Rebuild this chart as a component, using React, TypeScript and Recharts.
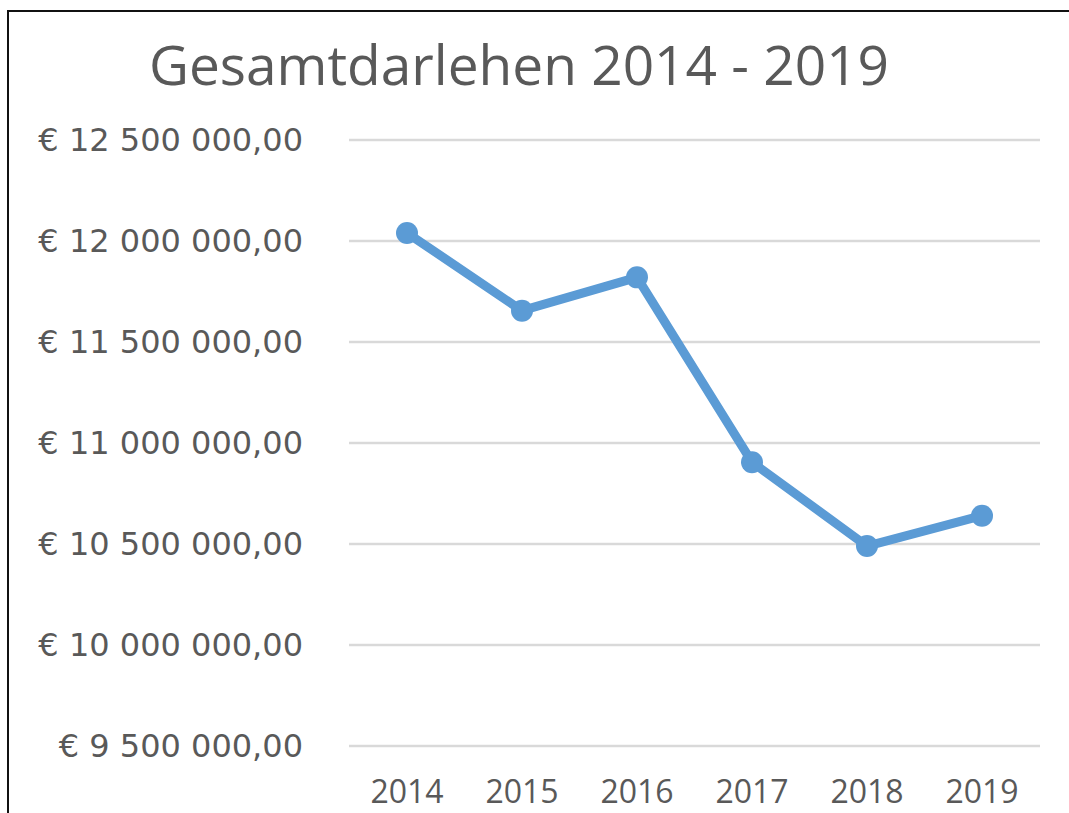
import { LineChart, Line, XAxis, YAxis, CartesianGrid } from 'recharts';

// Gesamtdarlehen per year (EUR)
const years = ['2014', '2015', '2016', '2017', '2018', '2019'];
const totals = [12040000, 11655000, 11820000, 10905000, 10490000, 10640000];
const yTicks = [9500000, 10000000, 10500000, 11000000, 11500000, 12000000, 12500000];

const data = years.map((year, i) => ({ year, total: totals[i] }));

const GRAY = '#595959';
const BLUE = '#5b9bd5';

function formatEuro(v: number) {
  const whole = Math.round(v)
    .toString()
    .replace(/\B(?=(\d{3})+(?!\d))/g, ' ');
  return `€ ${whole},00`;
}

export default function App() {
  return (
    <div
      style={{
        position: 'absolute',
        left: 7,
        top: 10,
        width: 1062,
        height: 803,
        borderLeft: '2px solid #111',
        borderTop: '2px solid #111',
        background: '#fff',
        overflow: 'hidden',
      }}
    >
      <div
        style={{
          position: 'absolute',
          left: 0,
          top: 20,
          width: 1020,
          textAlign: 'center',
          fontFamily: '"Open Sans", sans-serif',
          fontSize: 55,
          color: GRAY,
          lineHeight: '64px',
        }}
      >
        Gesamtdarlehen 2014 - 2019
      </div>
      <LineChart
        width={1060}
        height={800}
        data={data}
        margin={{ top: 128, right: 29, bottom: 0, left: 0 }}
        style={{ position: 'absolute', left: 0, top: 0 }}
      >
        <CartesianGrid vertical={false} stroke="#d9d9d9" strokeWidth={2.5} />
        <XAxis
          dataKey="year"
          axisLine={false}
          tickLine={false}
          tickSize={0}
          tickMargin={34}
          height={66}
          padding={{ left: 58, right: 58 }}
          tick={{ fill: GRAY, fontSize: 32, fontFamily: '"Open Sans", sans-serif' }}
        />
        <YAxis
          domain={[9500000, 12500000]}
          ticks={yTicks}
          tickFormatter={formatEuro}
          axisLine={false}
          tickLine={false}
          tickSize={0}
          tickMargin={46}
          width={340}
          tick={{ fill: GRAY, fontSize: 32, fontFamily: '"DejaVu Sans", sans-serif' }}
        />
        <Line
          type="linear"
          dataKey="total"
          stroke={BLUE}
          strokeWidth={9}
          dot={{ r: 11, fill: BLUE, stroke: 'none' }}
          isAnimationActive={false}
        />
      </LineChart>
    </div>
  );
}
